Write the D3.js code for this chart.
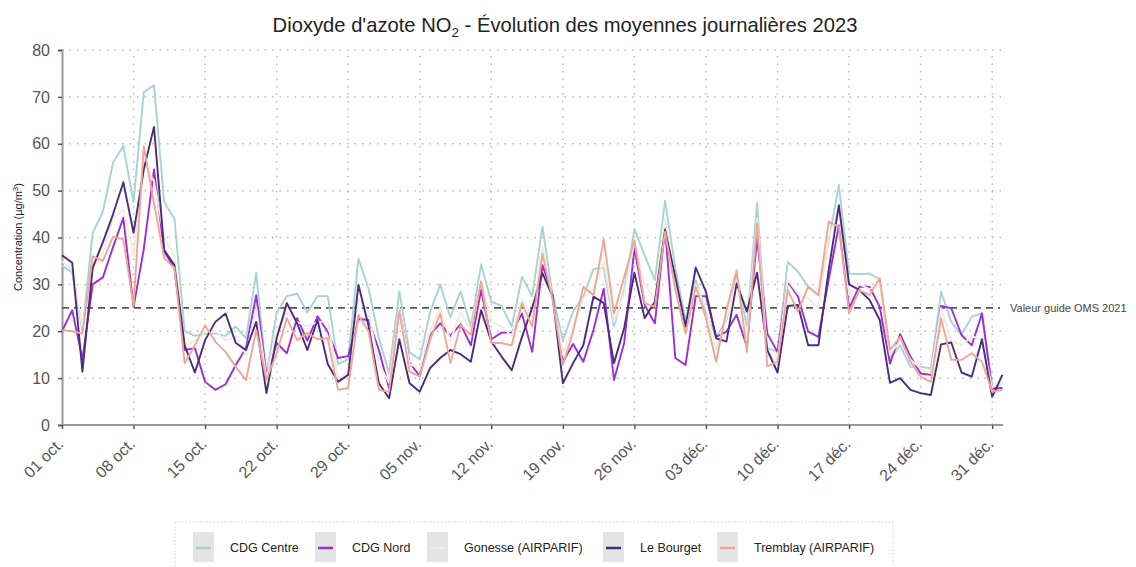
<!DOCTYPE html>
<html>
<head>
<meta charset="utf-8">
<script src="https://cdn.jsdelivr.net/npm/d3@7"></script>
<style>
  body { margin: 0; background: #fff; }
  svg { font-family: "Liberation Sans", Arial, sans-serif; }
</style>
</head>
<body>
<svg width="1136" height="567"></svg>
<script>
const svg = d3.select("svg"),
	width = +svg.attr("width"),
	height = +svg.attr("height");

// daily means, 1 Oct 2023 -> 1 Jan 2024
const stations = ["CDG Centre", "CDG Nord", "Gonesse (AIRPARIF)", "Le Bourget", "Tremblay (AIRPARIF)"];
const colors = ["#a9d2d5", "#9b2ddb", "#f1ebe2", "#4a2c7e", "#f0a693"];

const cdgCentre = [34, 32.5, 20, 41, 45.5, 56, 59.5, 47.5, 71, 72.5, 47.5, 44, 20, 19, 19.5, 19.5, 19, 21, 18.5, 32.5,
	10.5, 24, 27.5, 28, 24, 27.5, 27.5, 13, 14, 35.5, 29, 18.5, 11, 28.5, 15.5, 14, 24, 30, 23, 28.5,
	21, 34.3, 26.3, 25.4, 21, 31.6, 27.5, 42.3, 27.7, 18, 24.2, 27.4, 33.3, 33.5, 21, 28.8, 41.8, 36.2, 30.9, 47.8,
	33.5, 22.4, 30.9, 23.8, 18.8, 22.4, 32, 21, 47.4, 16.4, 15.6, 34.8, 32.7, 29.5, 27.7, 39.1, 51.2, 32.3, 32.2, 32.3,
	31.1, 14.2, 17, 12.4, 12.4, 12.1, 28.4, 22, 19.2, 23.1, 23.8, 7.5, 9];
const cdgNord = [20, 24.5, 14, 30, 31.5, 38, 44.2, 25.2, 37.5, 54.5, 37, 33.5, 16, 16.4, 9.2, 7.5, 8.7, 12.8, 16.4, 27.7,
	10.7, 17.5, 15.3, 22.8, 18, 23.2, 19.9, 14.3, 14.7, 22.6, 22.4, 16, 7.9, 24.7, 13.3, 10.4, 19.2, 21.7, 19, 21.5,
	17, 28.8, 18.3, 19.7, 19.7, 23.8, 15.6, 34.1, 27.7, 13.5, 17.3, 13.5, 20.3, 29.1, 9.6, 17.5, 37.7, 25.6, 21.7, 42,
	14.3, 12.8, 27.5, 27.5, 18.8, 19.9, 23.5, 16.7, 39.8, 19.5, 15.6, 30.6, 27.4, 19.9, 18.8, 30.9, 42.6, 24.9, 29.5, 29.5,
	25.2, 13.1, 19.4, 14.6, 11, 10.7, 25.4, 24.9, 19.2, 17, 23.8, 7.8, 7.9];
const gonesse = [35, 33, 21, 33, 37, 44, 46, 36, 56, 52, 40, 36, 17, 18, 20, 20, 18, 19, 15, 25,
	10, 20, 24, 22, 21, 22, 22, 10, 11, 27, 24, 13, 9, 25, 13, 12, 20, 25, 18, 24,
	20, 31, 22, 21, 19, 27, 23, 38, 27, 15, 21, 27, 29, 35, 22, 28, 39, 30, 27, 44,
	30, 20, 30, 25, 16, 23, 31, 18, 44, 15, 14, 31, 28, 27, 25, 40, 46, 28, 30, 29,
	30, 15, 18, 14, 12, 11, 25, 18, 17, 19, 18, 8, 9];
const leBourget = [36.2, 34.6, 11.4, 33.5, 39, 45, 51.8, 41, 54.5, 63.6, 37.3, 34.1, 17, 11.2, 18.1, 22, 23.8, 17.5, 16, 22,
	6.8, 18.5, 26, 21.7, 16, 22.4, 13, 9.2, 10.7, 29.9, 21, 8.9, 5.7, 18.3, 8.9, 7.1, 12.1, 14.3, 16, 15.1,
	13.5, 24.5, 17.8, 14.6, 11.7, 18.8, 25, 32.4, 27.4, 8.9, 13.2, 17, 27.4, 26, 13.2, 20.7, 32.5, 22.8, 26.3, 41.6,
	31.6, 21, 33.6, 28.4, 18.5, 17.8, 30.2, 24.2, 32.5, 16, 11.2, 25.4, 25.6, 17, 17, 33, 46.9, 30, 28.8, 26.7,
	22.4, 9, 10, 7.5, 6.8, 6.4, 17.2, 17.6, 11.2, 10.3, 18.3, 6, 10.7];
const tremblay = [20.2, 20, 19.5, 36, 35, 40.2, 39.6, 25.5, 59.5, 47.3, 35.6, 33.5, 13.2, 17, 21.3, 17.8, 15.6, 12.4, 9.6, 20.3,
	9.6, 15.3, 22.8, 18.1, 19.6, 18.3, 18.5, 7.5, 7.9, 23.5, 19.9, 7.5, 7.1, 24.2, 11.4, 10.3, 18.1, 23.8, 13.2, 21.3,
	19.2, 30.6, 17.5, 17.5, 17, 26, 21, 36.5, 26.7, 12.8, 19.9, 29.5, 27.7, 39.6, 23.8, 31.6, 39.4, 26, 25.2, 41.2,
	28.8, 19.5, 29.5, 22.8, 13.5, 24.5, 33, 15.6, 43, 12.5, 13.5, 28.8, 24.2, 29.5, 27.7, 43.4, 42.3, 23.8, 28.8, 27.7,
	31.3, 16, 18.8, 13.5, 10.3, 9.2, 22.7, 13.9, 13.9, 15.3, 13.5, 7.1, 7.5];

const series = [cdgCentre, cdgNord, gonesse, leBourget, tremblay];
const guideValue = 25;
const yTicks = [0, 10, 20, 30, 40, 50, 60, 70, 80];

const start = new Date(Date.UTC(2023, 9, 1));
const days = d3.utcDay.range(start, new Date(Date.UTC(2024, 0, 2)));
const tickDates = d3.utcDay.range(start, new Date(Date.UTC(2024, 0, 1)), 7);

const fr = d3.timeFormatLocale({
	dateTime: "%A %e %B %Y à %X", date: "%d/%m/%Y", time: "%H:%M:%S",
	periods: ["AM", "PM"],
	days: ["dimanche", "lundi", "mardi", "mercredi", "jeudi", "vendredi", "samedi"],
	shortDays: ["dim.", "lun.", "mar.", "mer.", "jeu.", "ven.", "sam."],
	months: ["janvier", "février", "mars", "avril", "mai", "juin", "juillet", "août", "septembre", "octobre", "novembre", "décembre"],
	shortMonths: ["janv", "févr", "mars", "avr", "mai", "juin", "juil", "août", "sept", "oct", "nov", "déc"]
});
const fmt = fr.utcFormat("%d %b.");

const x = d3.scaleUtc().domain([start, days[days.length - 1]]).range([62, 1002.4]);
const y = d3.scaleLinear().domain([0, 80]).range([425, 50]);

// grid
const grid = svg.append("g");
grid.selectAll(".hg").data(yTicks.slice(1)).join("line")
	.attr("x1", 62).attr("x2", 1003)
	.attr("y1", d => y(d)).attr("y2", d => y(d))
	.attr("stroke", "#b8b8b8").attr("stroke-width", 1.5).attr("stroke-dasharray", "1.5,6");
grid.selectAll(".vg").data(tickDates.slice(1)).join("line")
	.attr("x1", d => x(d)).attr("x2", d => x(d))
	.attr("y1", 425).attr("y2", 50)
	.attr("stroke", "#b8b8b8").attr("stroke-width", 1.5).attr("stroke-dasharray", "1.5,6");

// axes
const yAxis = svg.append("g").attr("transform", "translate(62,0)")
	.call(d3.axisLeft(y).tickValues(yTicks).tickSize(4).tickPadding(8));
const xAxis = svg.append("g").attr("transform", "translate(0,425)")
	.call(d3.axisBottom(x).tickValues(tickDates).tickFormat(fmt).tickSize(4).tickSizeOuter(0));

[yAxis, xAxis].forEach(a => {
	a.select(".domain").attr("stroke", "#9a9a9a").attr("stroke-width", 2);
	a.selectAll(".tick line").attr("stroke", "#555").attr("stroke-width", 1.5);
	a.selectAll("text").attr("fill", "#555").style("font-size", "16px");
});
xAxis.select(".domain").attr("d", "M62,0H1003");
xAxis.selectAll("text")
	.style("font-size", "16px")
	.attr("text-anchor", "end")
	.attr("x", 0).attr("y", 0)
	.attr("dy", "0.35em")
	.attr("transform", "translate(-2,16) rotate(-45)");

// guideline
svg.append("line")
	.attr("x1", 62).attr("x2", 1000)
	.attr("y1", y(guideValue)).attr("y2", y(guideValue))
	.attr("stroke", "#555").attr("stroke-width", 1.8).attr("stroke-dasharray", "7,5");
svg.append("text")
	.attr("x", 1010).attr("y", y(guideValue)).attr("dy", "0.35em")
	.attr("fill", "#444").style("font-size", "11px")
	.text("Valeur guide OMS 2021");

// lines
const line = d3.line().x((d, i) => x(days[i])).y(d => y(d));
svg.append("g").selectAll("path").data(series).join("path")
	.attr("d", d => line(d))
	.attr("fill", "none")
	.attr("stroke", (d, i) => colors[i])
	.attr("stroke-width", 1.9)
	.attr("stroke-linejoin", "round");

// title
const title = svg.append("text")
	.attr("x", 565).attr("y", 32)
	.attr("text-anchor", "middle")
	.attr("fill", "#222").style("font-size", "20.2px");
title.append("tspan").text("Dioxyde d'azote NO");
title.append("tspan").attr("dy", 5).style("font-size", "13.5px").text("2");
title.append("tspan").attr("dy", -5).text(" - Évolution des moyennes journalières 2023");

// y label
const yl = svg.append("text")
	.attr("transform", "translate(22,237) rotate(-90)")
	.attr("text-anchor", "middle")
	.attr("fill", "#222").style("font-size", "11px");
yl.append("tspan").text("Concentration (µg/m");
yl.append("tspan").attr("dy", -4).style("font-size", "8px").text("3");
yl.append("tspan").attr("dy", 4).text(")");

// legend
const legend = svg.append("g");
legend.append("rect")
	.attr("x", 175).attr("y", 522).attr("width", 718).attr("height", 60)
	.attr("fill", "none").attr("stroke", "#cfcfcf").attr("stroke-dasharray", "1.5,2");
const legX = [193, 315, 427, 603, 717];
const item = legend.selectAll(".item").data(stations).join("g")
	.attr("transform", (d, i) => `translate(${legX[i]},532)`);
item.append("rect").attr("width", 21).attr("height", 30).attr("fill", "#e4e4e4");
item.append("line")
	.attr("x1", 3).attr("x2", 18).attr("y1", 16).attr("y2", 16)
	.attr("stroke", (d, i) => colors[i]).attr("stroke-width", 2.5);
item.append("text")
	.attr("x", 37).attr("y", 16).attr("dy", "0.35em")
	.attr("fill", "#222").style("font-size", "12.5px")
	.text(d => d);
</script>
</body>
</html>
